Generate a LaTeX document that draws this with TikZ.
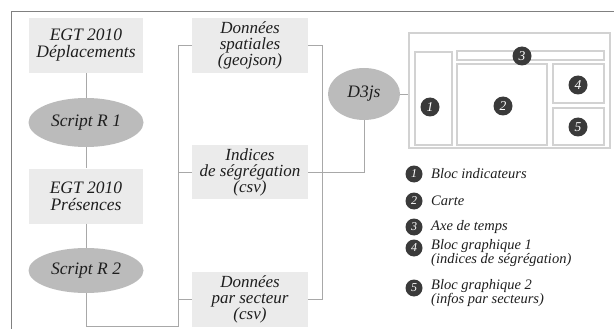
\documentclass[tikz,border=0pt]{standalone}
\usepackage{fontspec}
\setmainfont{Liberation Serif}
\usetikzlibrary{shapes.geometric}
\definecolor{boxgray}{HTML}{EBEBEB}
\definecolor{ellgray}{HTML}{BBBBBB}
\definecolor{wiregray}{HTML}{A8A8A8}
\definecolor{framegray}{HTML}{808080}
\definecolor{mockgray}{HTML}{D2D2D2}
\definecolor{dotgray}{HTML}{3A3A3A}
\definecolor{inkgray}{HTML}{1E1E1E}
\begin{document}
\begin{tikzpicture}[x=1pt, y=-1pt,
    databox/.style={fill=boxgray, minimum width=116, minimum height=55,
      inner sep=0pt, align=center, text=inkgray,
      font=\fontsize{17}{16}\selectfont\itshape},
    srcbox/.style={databox, minimum width=114, font=\fontsize{17.5}{17}\selectfont\itshape},
    scriptell/.style={ellipse, fill=ellgray, inner sep=0pt, text=inkgray,
      font=\fontsize{17.5}{17}\selectfont\itshape},
    wire/.style={draw=wiregray, line width=0.9pt},
    mockbox/.style={draw=mockgray, line width=1.3pt, inner sep=0pt},
    numdot/.style={circle, fill=dotgray, text=white, inner sep=0pt,
      minimum size=19, font=\fontsize{13.5}{13.5}\selectfont\itshape},
    legdot/.style={numdot, minimum size=17, font=\fontsize{12}{12}\selectfont\itshape},
    legtext/.style={inner sep=0pt, align=left, text=inkgray,
      font=\fontsize{14.5}{14.5}\selectfont\itshape}]
  \useasboundingbox (0,0) rectangle (614,329);
  \draw[framegray, line width=0.9pt] (11,329) -- (11,11) -- (614,11);

  \node[srcbox] (egtdep) at (86,45.5) {EGT 2010\\Déplacements};
  \node[scriptell, minimum width=115, minimum height=49] (script1) at (86,122.5) {Script R 1};
  \node[srcbox] (egtpres) at (86,196) {EGT 2010\\Présences};
  \node[scriptell, minimum width=115, minimum height=45] (script2) at (86,270.5) {Script R 2};

  \node[databox] (spatial) at (250,45.5) {Données\\spatiales\\(geojson)};
  \node[databox, minimum height=54] (indices) at (250,172) {Indices\\de ségrégation\\(csv)};
  \node[databox] (secteur) at (250,299.5) {Données\\par secteur\\(csv)};

  \node[scriptell, minimum width=72, minimum height=52] (d3js) at (364,94) {D3js};

  \coordinate (busleft) at (178,326);
  \coordinate (busright) at (322,0);

  \draw[wire] (egtdep) -- (script1);
  \draw[wire] (script1) -- (egtpres);
  \draw[wire] (egtpres) -- (script2);
  \draw[wire] (script2.south) |- (busleft) |- (spatial.west);
  \draw[wire] (busleft |- indices.west) -- (indices.west);
  \draw[wire] (busleft |- secteur.west) -- (secteur.west);
  \draw[wire] (spatial.east) -| (busright |- secteur.east) -- (secteur.east);
  \draw[wire] (indices.east) -| (d3js.south);

  \node[mockbox, minimum width=201, minimum height=115] (mockup) at (509.5,90.5) {};
  \node[mockbox, minimum width=37, minimum height=93] (blocind) at (433.5,98.5) {};
  \node[mockbox, minimum width=147, minimum height=9] (axetemps) at (530.5,55.5) {};
  \node[mockbox, minimum width=90, minimum height=81] (carte) at (502,104.5) {};
  \node[mockbox, minimum width=51, minimum height=39] (graphA) at (578.5,83.5) {};
  \node[mockbox, minimum width=51, minimum height=37] (graphB) at (578.5,126.5) {};
  \draw[wire] (d3js.east) -- (d3js.east -| mockup.west);

  \node[numdot] (dotind) at (430,107) {1};
  \node[numdot] (dotcarte) at (503,106) {2};
  \node[numdot] (dotaxe) at (522,56) {3};
  \node[numdot] (dotgraphA) at (578,85) {4};
  \node[numdot] (dotgraphB) at (578,127) {5};

  \node[legdot] (leg1) at (414,174) {1};
  \node[legdot] (leg2) at (414,201) {2};
  \node[legdot] (leg3) at (414,227) {3};
  \node[legdot] (leg4) at (414,248) {4};
  \node[legdot] (leg5) at (414,288) {5};
  \node[legtext, anchor=west] (legtext1) at (431,174) {Bloc indicateurs};
  \node[legtext, anchor=west] (legtext2) at (431,201) {Carte};
  \node[legtext, anchor=west] (legtext3) at (431,227) {Axe de temps};
  \node[legtext, anchor=north west] (legtext4) at (431,239) {Bloc graphique 1\\(indices de ségrégation)};
  \node[legtext, anchor=north west] (legtext5) at (431,279) {Bloc graphique 2\\(infos par secteurs)};
\end{tikzpicture}
\end{document}
